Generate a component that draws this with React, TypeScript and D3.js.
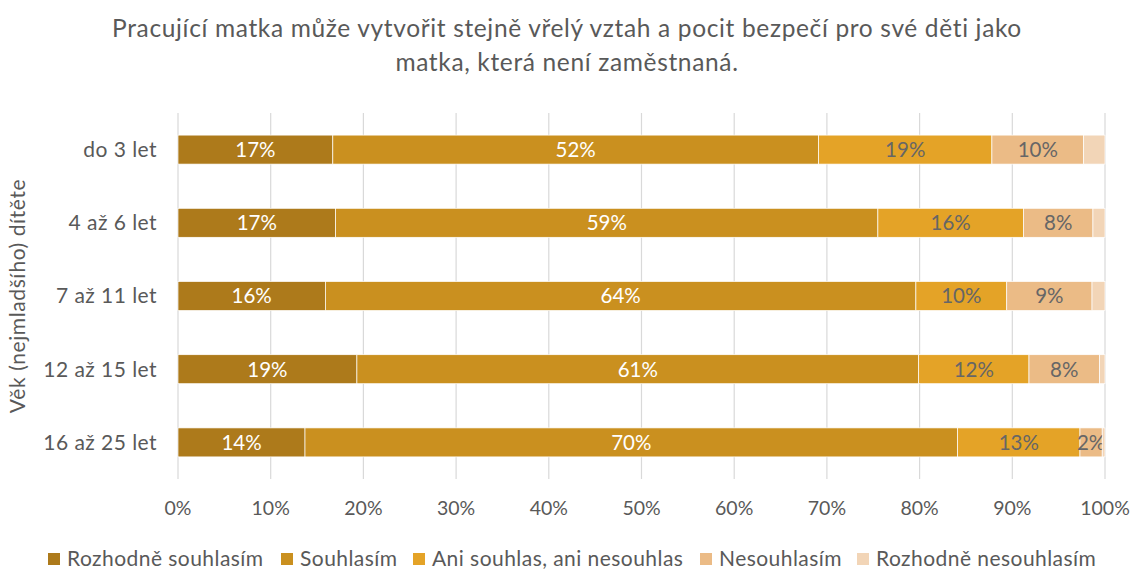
import * as d3 from "d3";
import { useEffect, useRef } from "react";

const categories = ["do 3 let", "4 až 6 let", "7 až 11 let", "12 až 15 let", "16 až 25 let"];
const seriesNames = ["Rozhodně souhlasím", "Souhlasím", "Ani souhlas, ani nesouhlas", "Nesouhlasím", "Rozhodně nesouhlasím"];
const colors = ["#AD7A1B", "#CA901F", "#E4A327", "#EBBB86", "#F2D5B7"];
const labelColors = ["#ffffff", "#ffffff", "#666666", "#666666", "#666666"];

const rozhodneSouhlasim = [16.7, 17.0, 15.9, 19.3, 13.7];
const souhlasim = [52.4, 58.5, 63.7, 60.6, 70.4];
const aniAni = [18.7, 15.7, 9.8, 11.9, 13.2];
const nesouhlasim = [9.9, 7.5, 9.2, 7.6, 2.4];
const rozhodneNesouhlasim = [2.3, 1.3, 1.4, 0.6, 0.3];
const labels = [
  ["17%", "52%", "19%", "10%", ""],
  ["17%", "59%", "16%", "8%", ""],
  ["16%", "64%", "10%", "9%", ""],
  ["19%", "61%", "12%", "8%", ""],
  ["14%", "70%", "13%", "2%", ""],
];
const ticks = [0, 10, 20, 30, 40, 50, 60, 70, 80, 90, 100];

const App = () => {
  const ref = useRef<SVGSVGElement>(null);

  useEffect(() => {
    if (ref && ref.current) ref.current.innerHTML = "";

    const width = 1133;
    const height = 569;
    const font = "Lato, 'Open Sans', sans-serif";
    const margin = { left: 178, right: 28, top: 113, bottom: 90 };
    const textColor = "#595959";

    const svg = d3.select(ref.current)
      .attr("width", width)
      .attr("height", height)
      .style("font-family", font);

    svg.append("rect").attr("width", width).attr("height", height).attr("fill", "#fff");

    // title
    const title = svg.append("text")
      .attr("text-anchor", "middle")
      .attr("fill", textColor)
      .attr("font-size", 24.5)
      .attr("letter-spacing", 0.65);
    title.append("tspan").attr("x", 567).attr("y", 37)
      .text("Pracující matka může vytvořit stejně vřelý vztah a pocit bezpečí pro své děti jako");
    title.append("tspan").attr("x", 567).attr("y", 71)
      .text("matka, která není zaměstnaná.");

    const x = d3.scaleLinear().domain([0, 100]).range([margin.left, width - margin.right]);
    const y = d3.scaleBand().domain(categories)
      .range([margin.top, height - margin.bottom])
      .paddingInner(0.604).paddingOuter(0.302);

    // gridlines
    svg.append("g").selectAll("line").data(ticks).join("line")
      .attr("x1", d => x(d)).attr("x2", d => x(d))
      .attr("y1", margin.top).attr("y2", height - margin.bottom)
      .attr("stroke", "#d9d9d9").attr("stroke-width", 1.2);

    // tick labels
    svg.append("g").selectAll("text").data(ticks).join("text")
      .attr("x", d => x(d)).attr("y", 515)
      .attr("text-anchor", "middle")
      .attr("fill", textColor).attr("font-size", 19.5)
      .text(d => `${d}%`);

    // category labels
    svg.append("g").selectAll("text").data(categories).join("text")
      .attr("x", 157).attr("y", d => y(d)! + y.bandwidth() / 2)
      .attr("dy", "0.35em")
      .attr("text-anchor", "end")
      .attr("fill", textColor).attr("font-size", 21)
      .attr("letter-spacing", 0.45)
      .text(d => d);

    // axis title
    svg.append("text")
      .attr("transform", `translate(18,${296}) rotate(-90)`)
      .attr("text-anchor", "middle")
      .attr("dy", "0.35em")
      .attr("fill", textColor).attr("font-size", 21)
      .attr("letter-spacing", 0.6)
      .text("Věk (nejmladšího) dítěte");

    const series = [rozhodneSouhlasim, souhlasim, aniAni, nesouhlasim, rozhodneNesouhlasim];
    const rows = categories.map((c, i) => {
      const r: any = { cat: c };
      seriesNames.forEach((s, j) => (r[s] = series[j][i]));
      return r;
    });
    const stacked = d3.stack().keys(seriesNames)(rows);

    stacked.forEach((layer, j) => {
      const g = svg.append("g");
      g.selectAll("rect").data(layer).join("rect")
        .attr("x", d => x(d[0]))
        .attr("y", d => y(d.data.cat as string)!)
        .attr("width", d => x(d[1]) - x(d[0]))
        .attr("height", y.bandwidth())
        .attr("fill", colors[j])
        .attr("stroke", "#fff").attr("stroke-width", 0.7);
      g.selectAll("text").data(layer).join("text")
        .attr("x", d => (x(d[0]) + x(d[1])) / 2)
        .attr("y", d => y(d.data.cat as string)! + y.bandwidth() / 2)
        .attr("dy", "0.36em")
        .attr("text-anchor", "middle")
        .attr("fill", labelColors[j])
        .attr("font-size", 20.5)
        .text((d, i) => labels[i][j]);
    });

    // legend
    const legendX = [48, 281, 413, 700, 857];
    const legend = svg.append("g").selectAll("g").data(seriesNames).join("g")
      .attr("transform", (d, i) => `translate(${legendX[i]},553)`);
    legend.append("rect").attr("width", 12).attr("height", 12)
      .attr("fill", (d, i) => colors[i]);
    legend.append("text").attr("x", 19).attr("y", 6).attr("dy", "0.35em")
      .attr("fill", textColor).attr("font-size", 21)
      .attr("letter-spacing", 0.45)
      .text(d => d);
  }, []);

  return <svg ref={ref} style={{ position: "absolute", left: 0, top: 0 }} />;
};

export default App;
